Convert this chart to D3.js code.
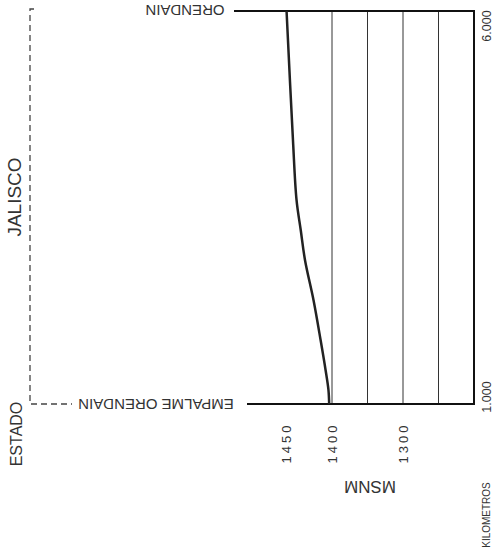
<!DOCTYPE html>
<html><head><meta charset="utf-8">
<script src="https://cdn.jsdelivr.net/npm/d3@7"></script>
<style>
html,body{margin:0;padding:0;background:#fff;}
svg{display:block;font-family:"Liberation Sans",Arial,sans-serif;}
</style></head>
<body>
<svg id="chart" width="495" height="556"></svg>
<script>
// Data
const km = [1.0, 1.18, 1.43, 1.81, 2.32, 2.83, 3.21, 3.6, 4.36, 6.0];
const elevation = [1404, 1405, 1409, 1416, 1426, 1438, 1444, 1450, 1455, 1464];
const gridElev = [1400, 1350, 1300, 1250];
const elevLabelValues = [1464, 1400, 1300];
const elevLabelTexts = ["1450", "1400", "1300"];
const kmTicks = [1, 6];
const kmTickTexts = ["1.000", "6.000"];
const places = ["EMPALME ORENDAIN", "ORENDAIN"];
const placeKm = [1, 6];

const svg = d3.select("#chart");
const y = d3.scaleLinear().domain([1, 6]).range([404, 11]);
const x = d3.scaleLinear().domain([1400, 1200]).range([332, 474]);
const ink = "#222";

// gridlines
svg.selectAll("line.grid").data(gridElev).enter().append("line")
  .attr("x1", d => x(d)).attr("x2", d => x(d))
  .attr("y1", y(6)).attr("y2", y(1))
  .attr("stroke", "#333").attr("stroke-width", 1);

// right border (1200)
svg.append("line").attr("x1", x(1200)).attr("x2", x(1200))
  .attr("y1", y(6) - 1).attr("y2", y(1) + 1)
  .attr("stroke", "#111").attr("stroke-width", 2);
// top / bottom lines
svg.append("line").attr("x1", 234).attr("x2", x(1200) + 1)
  .attr("y1", y(6)).attr("y2", y(6)).attr("stroke", "#111").attr("stroke-width", 2);
svg.append("line").attr("x1", 247).attr("x2", x(1200) + 1)
  .attr("y1", y(1)).attr("y2", y(1)).attr("stroke", "#111").attr("stroke-width", 2);

// profile
const pts = km.map((k, i) => [x(elevation[i]), y(k)]);
svg.append("path").datum(pts)
  .attr("d", d3.line().curve(d3.curveCatmullRom.alpha(0.5)))
  .attr("fill", "none").attr("stroke", ink).attr("stroke-width", 2.5);

// km labels
svg.append("text").attr("transform", `translate(487,${y(kmTicks[1]) + 15}) rotate(-90)`)
  .attr("text-anchor", "middle").attr("font-size", 12.5).attr("fill", "#333")
  .attr("dominant-baseline", "central").text(kmTickTexts[1]);
svg.append("text").attr("transform", `translate(487,${y(kmTicks[0]) - 7}) rotate(-90)`)
  .attr("text-anchor", "middle").attr("font-size", 12.5).attr("fill", "#333")
  .attr("dominant-baseline", "central").text(kmTickTexts[0]);
svg.append("text").attr("transform", `translate(486,515) rotate(-90)`)
  .attr("text-anchor", "middle").attr("font-size", 10).attr("fill", "#333")
  .attr("dominant-baseline", "central").text("KILOMETROS");

// elevation labels
svg.selectAll("text.el").data(elevLabelValues).enter().append("text")
  .attr("transform", d => `translate(${x(d)},443) rotate(-90)`)
  .attr("text-anchor", "middle").attr("font-size", 13).attr("letter-spacing", 3)
  .attr("fill", "#333").attr("dominant-baseline", "central")
  .text((d, i) => elevLabelTexts[i]);
svg.append("text").attr("transform", `translate(370,486) rotate(180)`)
  .attr("text-anchor", "middle").attr("font-size", 17).attr("fill", "#333")
  .attr("dominant-baseline", "central").text("MSNM");

// place labels (upside down)
svg.append("text").attr("transform", `translate(156,${y(placeKm[0])}) rotate(180)`)
  .attr("text-anchor", "middle").attr("font-size", 15).attr("fill", "#333")
  .attr("dominant-baseline", "central").text(places[0]);
svg.append("text").attr("transform", `translate(185,${y(placeKm[1]) - 1}) rotate(180)`)
  .attr("text-anchor", "middle").attr("font-size", 15).attr("fill", "#333")
  .attr("dominant-baseline", "central").text(places[1]);

// state boundary
svg.append("path")
  .attr("d", `M34,${y(6) - 2} H30 V${y(1)} H72`)
  .attr("fill", "none").attr("stroke", "#444").attr("stroke-width", 1.3)
  .attr("stroke-dasharray", "6,4");
svg.append("text").attr("transform", `translate(14,197) rotate(-90)`)
  .attr("text-anchor", "middle").attr("font-size", 19).attr("fill", "#333")
  .attr("dominant-baseline", "central").text("JALISCO");
svg.append("text").attr("transform", `translate(16,434) rotate(-90)`)
  .attr("text-anchor", "middle").attr("font-size", 16).attr("fill", "#333")
  .attr("dominant-baseline", "central").text("ESTADO");
</script>
</body></html>
